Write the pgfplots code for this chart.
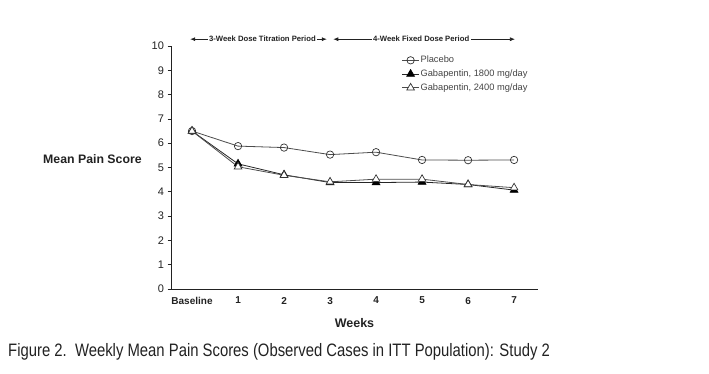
\documentclass[border=0pt]{standalone}
\usepackage{pgfplots}
\pgfplotsset{compat=1.18}
\usepackage{fontspec}
\setmainfont{Liberation Sans}
\usetikzlibrary{arrows.meta}
\definecolor{ink}{HTML}{222222}
\definecolor{lgray}{HTML}{444444}
\begin{document}
\begin{tikzpicture}[x=1pt,y=1pt]
\useasboundingbox (0,0) rectangle (709,374);
\begin{axis}[
  at={(171pt,85pt)}, anchor=south west,
  scale only axis, width=367pt, height=243pt,
  xmin=-0.457, xmax=7.52, ymin=0, ymax=10,
  axis x line=bottom, axis y line=left,
  axis line style={-, line width=0.9pt, ink},
  x axis line style={-},
  xtick={0,1,2,3,4,5,6,7},
  xticklabels={Baseline,1,2,3,4,5,6,7},
  xtick style={draw=none},
  ytick={0,1,2,3,4,5,6,7,8,9,10},
  tick align=outside,
  ytick style={line width=0.7pt, ink},
  major tick length=3.5pt,
  /pgf/number format/assume math mode=true,
  x tick label style={font=\bfseries\fontsize{10}{12}\selectfont, text=ink, yshift=-1pt},
  y tick label style={font=\fontsize{11}{13}\selectfont, text=ink},
  xlabel={Weeks},
  xlabel style={font=\bfseries\fontsize{12.5}{14}\selectfont, text=ink, at={(axis description cs:0.5,-0.139)}, anchor=center},
  ylabel={Mean Pain Score},
  ylabel style={font=\bfseries\fontsize{12.3}{14}\selectfont, text=ink, rotate=-90, at={(axis description cs:-0.214,0.535)}, anchor=center},
  clip=false,
  legend style={at={(rel axis cs:0.628,0.965)}, anchor=north west, draw=none, fill=none,
    font=\fontsize{9.3}{10}\selectfont, text=lgray, row sep=2.5pt, inner sep=0pt,
    nodes={inner xsep=1pt, inner ysep=1.5pt}},
  legend cell align=left,
]
\addplot[line width=0.8pt, color=black!70, mark=o, mark size=3.7pt, mark options={fill=white, line width=0.7pt, draw=black!80}]
  coordinates {(0,6.5) (1,5.88) (2,5.82) (3,5.53) (4,5.63) (5,5.31) (6,5.30) (7,5.31)};
\addlegendentry{Placebo}
\addplot[line width=0.8pt, color=black!85, mark=triangle*, mark size=4.4pt, mark options={fill=black, draw=black}]
  coordinates {(0,6.5) (1,5.15) (2,4.70) (3,4.38) (4,4.38) (5,4.40) (6,4.30) (7,4.07)};
\addlegendentry{Gabapentin, 1800 mg/day}
\addplot[line width=0.8pt, color=black!70, mark=triangle*, mark size=4.4pt, mark options={fill=white, draw=black!80, line width=0.7pt}]
  coordinates {(0,6.5) (1,5.03) (2,4.68) (3,4.41) (4,4.52) (5,4.52) (6,4.30) (7,4.17)};
\addlegendentry{Gabapentin, 2400 mg/day}
\draw[line width=0.7pt, ink, {Latex[length=5pt,width=4pt]}-{Latex[length=5pt,width=4pt]}] (axis cs:-0.04,10.28) -- (axis cs:2.93,10.28);
\draw[line width=0.7pt, ink, {Latex[length=5pt,width=4pt]}-{Latex[length=5pt,width=4pt]}] (axis cs:3.07,10.28) -- (axis cs:7.02,10.28);
\node[fill=white, inner xsep=1.5pt, inner ysep=1pt, font=\bfseries\fontsize{7.7}{9}\selectfont, text=ink] at (axis cs:1.53,10.28) {3-Week Dose Titration Period};
\node[fill=white, inner xsep=1.5pt, inner ysep=1pt, font=\bfseries\fontsize{7.7}{9}\selectfont, text=ink] at (axis cs:4.98,10.28) {4-Week Fixed Dose Period};
\end{axis}
\node[anchor=west, inner sep=0pt, font=\fontsize{18}{20}\selectfont, text=ink] at (8,22) {\scalebox{0.825}[1]{Figure 2.\ \ Weekly Mean Pain Scores (Observed Cases in ITT Population): Study 2}};
\end{tikzpicture}
\end{document}
